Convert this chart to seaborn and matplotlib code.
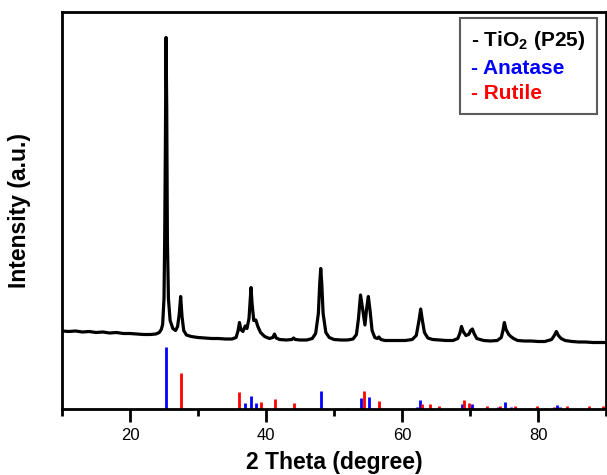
import matplotlib
matplotlib.use("Agg")
import matplotlib.pyplot as plt
import seaborn as sns
from matplotlib.lines import Line2D

# XRD pattern of TiO2 (P25) (2theta, intensity a.u.)
two_theta = [10.0, 11.0, 12.0, 13.0, 14.0, 15.0, 16.0, 17.0, 18.0, 19.0, 20.0, 21.0, 22.0, 23.0,
             23.8, 24.3, 24.6, 24.8, 25.0, 25.1, 25.2, 25.3, 25.4, 25.5, 25.65, 25.9, 26.3, 26.7,
             27.0, 27.25, 27.45, 27.65, 27.9, 28.3, 29.0, 30.0, 31.0, 32.0, 33.0, 34.0, 35.0,
             35.6, 35.9, 36.1, 36.3, 36.6, 36.95, 37.2, 37.5, 37.65, 37.8, 37.95, 38.2, 38.5,
             38.8, 39.2, 39.8, 40.5, 41.0, 41.25, 41.5, 42.0, 43.0, 43.8, 44.05, 44.3, 45.0, 46.0,
             46.8, 47.3, 47.7, 47.9, 48.05, 48.2, 48.4, 48.8, 49.3, 50.0, 51.0, 52.0, 52.8, 53.3,
             53.6, 53.9, 54.2, 54.55, 54.8, 55.05, 55.3, 55.6, 56.0, 56.35, 56.6, 56.9, 57.5, 58.5,
             59.5, 60.5, 61.5, 62.1, 62.5, 62.75, 63.0, 63.3, 63.8, 64.5, 65.5, 66.5, 67.5, 68.2,
             68.5, 68.75, 69.0, 69.4, 69.8, 70.1, 70.35, 70.6, 71.0, 72.0, 73.0, 74.0, 74.6, 74.85,
             75.05, 75.3, 75.7, 76.0, 76.4, 77.0, 78.0, 79.0, 80.0, 81.0, 82.0, 82.4, 82.7, 83.0,
             83.4, 84.0, 85.0, 86.0, 87.0, 88.0, 89.0, 90.0]
intensity = [77.5, 77.0, 77.5, 76.5, 77.0, 76.0, 76.5, 75.5, 76.0, 75.0, 75.0, 74.5, 74.0, 74.0,
             74.5, 76.0, 79.0, 84.0, 110.0, 168.0, 260.0, 371.0, 300.0, 168.0, 110.0, 88.0, 80.0, 78.0,
             82.0, 95.0, 112.0, 92.0, 78.0, 73.5, 72.0, 71.0, 70.5, 70.0, 70.0, 69.5, 69.5,
             71.0, 78.0, 86.0, 79.0, 77.0, 82.5, 80.0, 90.0, 105.0, 121.0, 105.0, 88.0, 88.5,
             82.0, 76.0, 72.0, 70.0, 71.0, 74.5, 70.5, 69.0, 68.5, 69.0, 70.5, 69.0, 68.5, 68.5,
             70.0, 75.0, 95.0, 125.0, 140.0, 125.0, 95.0, 76.0, 71.0, 69.0, 68.5, 68.5, 69.5, 74.0,
             90.0, 113.5, 100.0, 83.5, 100.0, 112.0, 98.0, 78.0, 71.0, 70.0, 71.5, 69.0, 68.0, 68.0,
             68.0, 68.0, 69.0, 73.0, 88.0, 99.5, 88.0, 76.0, 70.5, 69.0, 68.5, 68.0, 68.0, 70.0,
             75.0, 82.0, 77.0, 73.0, 74.0, 78.0, 79.5, 75.0, 70.0, 68.0, 67.5, 68.0, 71.0, 78.0,
             86.0, 79.0, 74.0, 72.0, 70.0, 68.0, 67.5, 67.5, 67.0, 67.0, 69.0, 73.0, 77.0, 73.0,
             70.0, 68.0, 67.0, 66.5, 66.5, 66.0, 66.0, 66.0]

# reference stick patterns
anatase_pos = [25.3, 36.9, 37.8, 38.6, 48.05, 52.0, 53.9, 55.1, 62.15, 62.7, 68.8, 70.35,
               74.1, 75.1, 76.1, 78.8, 81.0, 82.75, 83.2]
anatase_h = [61.5, 5.5, 12.5, 5.5, 17.5, 1.0, 11.0, 11.5, 2.0, 9.0, 4.5, 4.5,
             1.5, 7.0, 2.0, 1.0, 1.0, 4.0, 2.0]
rutile_pos = [27.45, 36.1, 39.2, 41.25, 44.05, 54.35, 56.65, 62.95, 64.05, 65.5, 69.05, 69.8,
              72.45, 74.45, 76.55, 79.85, 82.35, 84.3, 87.5, 89.6]
rutile_h = [35.5, 16.5, 6.5, 9.5, 5.5, 17.5, 7.5, 4.5, 4.5, 2.5, 8.5, 5.5,
            2.5, 2.5, 2.5, 2.5, 2.0, 2.5, 2.5, 3.0]

legend_labels = [r"- TiO$_2$ (P25)", "- Anatase", "- Rutile"]
legend_colors = ["black", "#0000ff", "#ff0000"]

sns.set_style("ticks")
plt.rcParams["font.family"] = ["Liberation Sans", "DejaVu Sans"]
plt.rcParams["mathtext.fontset"] = "custom"
plt.rcParams["mathtext.rm"] = "Liberation Sans:bold"
plt.rcParams["mathtext.bf"] = "Liberation Sans:bold"
plt.rcParams["mathtext.default"] = "bf"
plt.rcParams["text.color"] = "black"
plt.rcParams["axes.labelcolor"] = "black"
plt.rcParams["xtick.color"] = "black"
plt.rcParams["xtick.labelcolor"] = "black"

fig = plt.figure(figsize=(6.07, 4.75), dpi=100)
ax = fig.add_axes([62 / 607, 1 - 408.5 / 475, 544 / 607, 396.5 / 475])

sns.lineplot(x=two_theta, y=intensity, color="black", linewidth=2.3, estimator=None,
             sort=False, ax=ax)
ax.vlines(anatase_pos, 0, anatase_h, colors="#0000ff", linewidth=2)
ax.vlines(rutile_pos, 0, rutile_h, colors="#ff0000", linewidth=2)

ax.set_xlim(10, 90)
ax.set_ylim(0, 396.5)
ax.set_xticks([20, 40, 60, 80])
ax.set_xticks([10, 30, 50, 70, 90], minor=True)
ax.set_yticks([])
ax.tick_params(axis="x", which="major", length=9, width=2, labelsize=12, pad=5)
ax.tick_params(axis="x", which="minor", length=5, width=2)
for s in ax.spines.values():
    s.set_linewidth(2)
    s.set_color("black")

ax.set_xlabel("2 Theta (degree)", fontsize=16.5, fontweight="bold", labelpad=6)
ax.set_ylabel("Intensity (a.u.)", fontsize=16.5, fontweight="bold", labelpad=22)

handles = [Line2D([], [], linestyle="none") for _ in legend_labels]
leg = ax.legend(handles, legend_labels, loc="upper right", bbox_to_anchor=(0.983, 0.985),
                borderaxespad=0, handlelength=0, handletextpad=0, frameon=True, fancybox=False,
                prop={"weight": "bold", "size": 15}, labelspacing=0.3, borderpad=0.55)
leg.get_frame().set_edgecolor("#333333")
leg.get_frame().set_linewidth(1.5)
for txt, c in zip(leg.get_texts(), legend_colors):
    txt.set_color(c)

fig.savefig("out.png", dpi=100)
